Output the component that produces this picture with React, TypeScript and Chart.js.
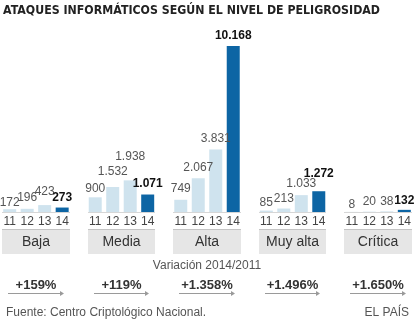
import { useEffect, useRef } from "react";
import { Chart, registerables } from "chart.js";

Chart.register(...registerables);

// ---- data ----
const categories = ["Baja", "Media", "Alta", "Muy alta", "Crítica"];
const years = ["11", "12", "13", "14"];
const values2011 = [172, 900, 749, 85, 8];
const values2012 = [196, 1532, 2067, 213, 20];
const values2013 = [423, 1938, 3831, 1033, 38];
const values2014 = [273, 1071, 10168, 1272, 132];
const variation = ["+159%", "+119%", "+1.358%", "+1.496%", "+1.650%"];
const title = "ATAQUES INFORMÁTICOS SEGÚN EL NIVEL DE PELIGROSIDAD";
const subtitle = "Variación 2014/2011";
const source = "Fuente: Centro Criptológico Nacional.";
const brand = "EL PAÍS";

// ---- layout / style (not data) ----
const series = [values2011, values2012, values2013, values2014];
// extra upward nudge (px) of each value label, [year][category]
const labelNudge = [
  [-3, -1, 1, -2, -3],
  [1, 5, 1, 0, 0],
  [3, 14, 1, 1, 0],
  [-0.5, 0.5, 0, 8, -1],
];
const LIGHT = "#cfe3ee";
const DARK = "#0d65a4";
const FONT = "'Liberation Sans', Arial, sans-serif";

const fmt = (v: number) =>
  String(v).replace(/\B(?=(\d{3})+(?!\d))/g, ".");

const overlay = {
  id: "overlay",
  afterDraw(chart: any) {
    const ctx: CanvasRenderingContext2D = chart.ctx;
    const W = chart.width;
    ctx.save();

    // title
    ctx.font = `bold 12px 'DejaVu Sans', Verdana, sans-serif`;
    ctx.fillStyle = "#222";
    ctx.textBaseline = "middle";
    ctx.textAlign = "left";
    const tw = ctx.measureText(title).width;
    ctx.save();
    ctx.translate(3, 10.5);
    ctx.scale(377 / tw, 1);
    ctx.fillText(title, 0, 0);
    ctx.restore();

    const metas = years.map((_, d) => chart.getDatasetMeta(d));
    categories.forEach((cat, i) => {
      const first = metas[0].data[i];
      const last = metas[3].data[i];
      const left = Math.round(first.x - first.width / 2) - 1;
      const right = Math.round(last.x + last.width / 2) + 1;
      const cx = (left + right) / 2;
      const base = first.base;

      // baseline
      ctx.strokeStyle = "#d6d6d6";
      ctx.lineWidth = 1;
      ctx.beginPath();
      ctx.moveTo(left, Math.round(base) + 0.5);
      ctx.lineTo(right, Math.round(base) + 0.5);
      ctx.stroke();

      // category box
      ctx.fillStyle = "#e6e6e6";
      ctx.fillRect(left, 230, right - left, 24);
      ctx.strokeStyle = "#c4c4c4";
      ctx.beginPath();
      ctx.moveTo(left, 229.5);
      ctx.lineTo(right, 229.5);
      ctx.stroke();

      ctx.fillStyle = "#333";
      ctx.font = `14px ${FONT}`;
      ctx.textAlign = "center";
      ctx.textBaseline = "middle";
      ctx.fillText(cat, cx, 242);

      // year labels & values
      metas.forEach((m: any, d: number) => {
        const bar = m.data[i];
        ctx.fillStyle = "#444";
        ctx.font = `12px ${FONT}`;
        ctx.fillText(years[d], bar.x, 222);
        const v = series[d][i];
        const isLast = d === years.length - 1;
        ctx.font = isLast ? `bold 12px ${FONT}` : `12px ${FONT}`;
        ctx.fillStyle = isLast ? "#111" : "#555";
        ctx.fillText(fmt(v), bar.x, bar.y - 10 - labelNudge[d][i]);
      });

      // variation
      ctx.font = `bold 13px ${FONT}`;
      ctx.fillStyle = "#333";
      ctx.fillText(variation[i], cx, 285);
      const ax0 = left + 6;
      const ax1 = right - 6;
      ctx.strokeStyle = "#9a9a9a";
      ctx.beginPath();
      ctx.moveTo(ax0, 293.5);
      ctx.lineTo(ax1 - 2, 293.5);
      ctx.stroke();
      ctx.fillStyle = "#9a9a9a";
      ctx.beginPath();
      ctx.moveTo(ax1, 293.5);
      ctx.lineTo(ax1 - 4, 291);
      ctx.lineTo(ax1 - 4, 296);
      ctx.closePath();
      ctx.fill();
    });

    ctx.font = `12px ${FONT}`;
    ctx.fillStyle = "#555";
    ctx.textAlign = "center";
    ctx.fillText(subtitle, W / 2, 266);

    ctx.textAlign = "left";
    ctx.fillStyle = "#555";
    ctx.fillText(source, 6, 313);
    ctx.textAlign = "right";
    ctx.fillText(brand, 409, 313);

    ctx.restore();
  },
};

export default function App() {
  const ref = useRef<HTMLCanvasElement>(null);
  useEffect(() => {
    if (!ref.current) return;
    const yMax = Math.max(...series.flat());
    const chart = new Chart(ref.current, {
      type: "bar",
      data: {
        datasets: years.map((yr, d) => ({
          label: yr,
          data: series[d].map((v, i) => ({ x: i, y: v })),
          backgroundColor: d === years.length - 1 ? DARK : LIGHT,
          categoryPercentage: 0.818,
          barPercentage: 0.743,
        })),
      },
      options: {
        responsive: false,
        animation: false,
        devicePixelRatio: 1,
        layout: { padding: { top: 46, bottom: 114, left: 0, right: 0 } },
        scales: {
          x: {
            type: "linear",
            offset: false,
            min: -0.42,
            max: 4.42,
            display: false,
            afterBuildTicks: (s: any) => {
              s.ticks = categories.map((_, i) => ({ value: i }));
            },
          },
          y: { min: 0, max: yMax, display: false },
        },
        plugins: {
          legend: { display: false },
          tooltip: { enabled: false },
        },
      },
      plugins: [overlay],
    } as any);
    return () => chart.destroy();
  }, []);
  return (
    <div
      style={{
        position: "fixed",
        left: 0,
        top: 0,
        width: 414,
        height: 326,
        background: "#fff",
      }}
    >
      <canvas ref={ref} width={414} height={326} />
    </div>
  );
}
